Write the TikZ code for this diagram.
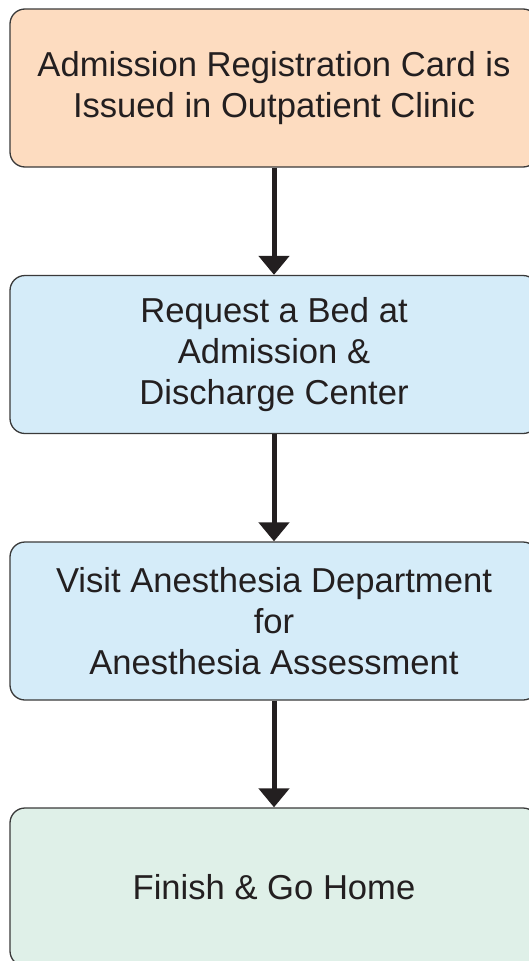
\documentclass[tikz,border=0pt]{standalone}
\usepackage{fontspec}
\setmainfont{Liberation Sans}
\usetikzlibrary{arrows.meta}
\definecolor{peach}{HTML}{FDDCC0}
\definecolor{skyblue}{HTML}{D5ECF9}
\definecolor{mint}{HTML}{DFF0E8}
\definecolor{edge}{HTML}{3A3A3A}
\definecolor{ink}{HTML}{231F20}

\begin{document}
\begin{tikzpicture}[x=1pt,y=-1pt,
  stepbox/.style={draw=edge,line width=1.3pt,rounded corners=15pt,
    minimum width=528pt,minimum height=158pt,align=center,
    font=\fontsize{34.6}{41}\selectfont,text=ink,inner sep=0pt},
  flow/.style={draw=ink,line width=5pt,-{Triangle[width=30pt,length=19pt]}}]
\useasboundingbox (0,0) rectangle (529,961);
\node[stepbox,fill=peach] (issue) at (274,88) {Admission Registration Card is\\Issued in Outpatient Clinic};
\node[stepbox,fill=skyblue] (bed) at (274,354.5) {Request a Bed at\\Admission \&\\Discharge Center};
\node[stepbox,fill=skyblue] (anes) at (274,621) {Visit Anesthesia Department\\for\\Anesthesia Assessment};
\node[stepbox,fill=mint] (home) at (274,887) {Finish \& Go Home};
\draw[flow] (issue) -- (bed);
\draw[flow] (bed) -- (anes);
\draw[flow] (anes) -- (home);
\end{tikzpicture}
\end{document}
